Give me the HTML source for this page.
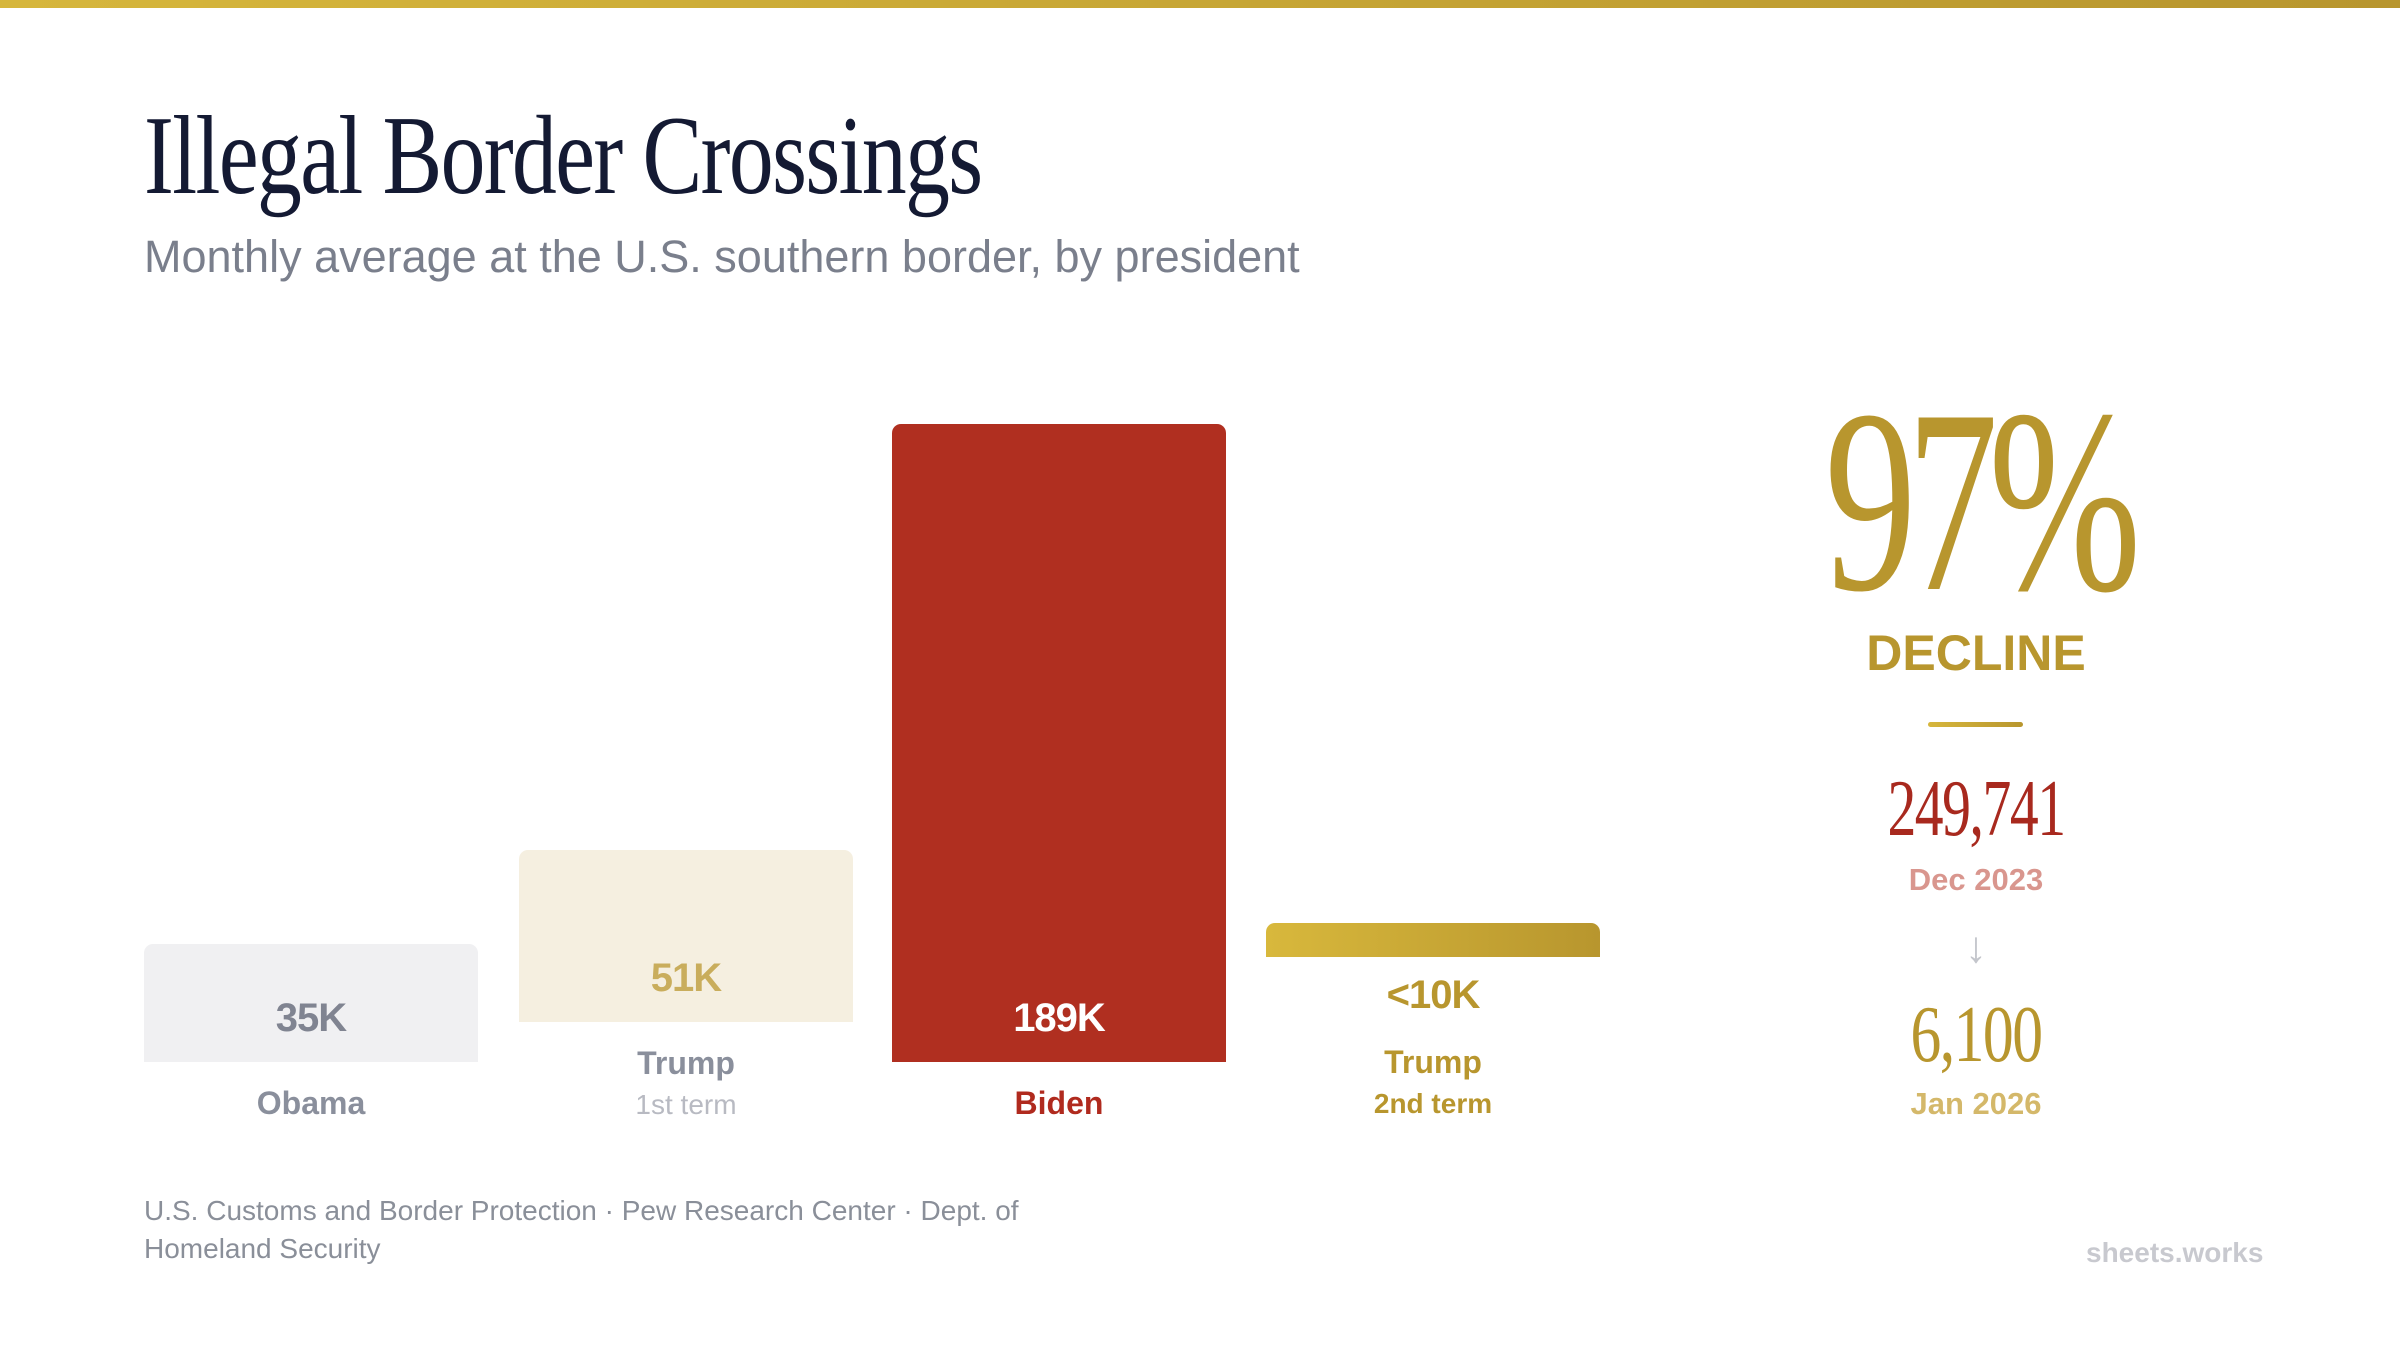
<!DOCTYPE html>
<html><head><meta charset="utf-8">
<style>
body{margin:0;width:2400px;height:1350px;background:#fff;position:relative;overflow:hidden;font-family:"Liberation Sans",sans-serif}
.a{position:absolute;white-space:nowrap}
.c{transform:translateX(-50%);text-align:center}
.serif{font-family:"Liberation Serif",serif}
</style></head><body>
<div class="a" style="left:0;top:0;width:2400px;height:8px;background:linear-gradient(90deg,#d6b63c,#b8962e)"></div>
<div class="a serif" style="left:144px;top:96px;font-size:112px;line-height:120px;color:#141a33;transform-origin:left top;transform:scaleX(0.80);letter-spacing:-2px">Illegal Border Crossings</div>
<div class="a" style="left:144px;top:232px;font-size:45px;line-height:50px;color:#7a7f8c">Monthly average at the U.S. southern border, by president</div>

<div id="chart"></div>

<div class="a c serif" style="left:1978px;top:370px;font-size:262px;line-height:262px;color:#b8962e;letter-spacing:-14px;transform:translateX(-50%) scaleX(0.70)">97%</div>
<div class="a c" style="left:1976px;top:624px;font-size:50px;line-height:58px;font-weight:bold;color:#b8962e">DECLINE</div>
<div class="a" style="left:1928px;top:722px;width:95px;height:5px;border-radius:3px;background:linear-gradient(90deg,#d6b63c,#b8962e)"></div>
<div class="a c serif" style="left:1976px;top:764px;font-size:80px;line-height:90px;color:#a8291e;transform:translateX(-50%) scaleX(0.72);letter-spacing:-2px">249,741</div>
<div class="a c" style="left:1976px;top:862px;font-size:31px;line-height:36px;font-weight:bold;color:#d9968e">Dec 2023</div>
<div class="a c" style="left:1976px;top:920px;font-size:44px;line-height:56px;color:#c4c6cc">↓</div>
<div class="a c serif" style="left:1976px;top:990px;font-size:80px;line-height:90px;color:#b8962e;transform:translateX(-50%) scaleX(0.77);letter-spacing:-2px">6,100</div>
<div class="a c" style="left:1976px;top:1086px;font-size:31px;line-height:36px;font-weight:bold;color:#d4b86a">Jan 2026</div>

<div class="a" style="left:144px;top:1192px;font-size:28px;line-height:38px;color:#8a8f99;white-space:normal;width:900px">U.S. Customs and Border Protection · Pew Research Center · Dept. of Homeland Security</div>
<div class="a" style="left:2086px;top:1236px;font-size:28px;line-height:34px;color:#c8c9cf;font-weight:bold">sheets.works</div>

<script>
const categories = ["Obama","Trump","Biden","Trump"];
const subLabels = ["","1st term","","2nd term"];
const values = [35, 51, 189, 10];
const valueLabels = ["35K","51K","189K","<10K"];

const barLeft = [144, 519, 892, 1266];
const barW = 334;
const bottoms = [1062, 1022, 1062, 957];
const fills = ["#f0f0f2","#f5efe0","#b02f20","linear-gradient(90deg,#d8b83c,#b8962e)"];
const valColors = ["#808491","#c9ad5c","#ffffff","#b8962e"];
const nameColors = ["#8a8f9c","#8a8f9c","#b02a1e","#b8962e"];
const pxPerK = 638/189;
function yScale(v){ return v*pxPerK; }

const chart = document.getElementById('chart');
values.forEach((v,i)=>{
  const h = yScale(v);
  const bar = document.createElement('div');
  
  
  bar.className = 'a';
  bar.style.cssText = `left:${barLeft[i]}px;top:${bottoms[i]-h}px;width:${barW}px;height:${h}px;background:${fills[i]};border-radius:9px 9px 0 0`;
  chart.appendChild(bar);

  const cx = barLeft[i] + barW/2;
  const inside = h > 80;
  const vy = inside ? bottoms[i]-68 : bottoms[i]+14;
  const vl = document.createElement('div');
  
  
  vl.className = 'a c';
  vl.style.cssText = `left:${cx}px;top:${vy}px;font-size:40px;line-height:48px;font-weight:bold;color:${valColors[i]};letter-spacing:-1px`;
  vl.textContent = valueLabels[i];
  chart.appendChild(vl);

  let ny = inside ? bottoms[i]+22 : bottoms[i]+86;
  const nl = document.createElement('div');
  
  
  nl.className = 'a c';
  nl.style.cssText = `left:${cx}px;top:${ny}px;font-size:32px;line-height:38px;font-weight:bold;color:${nameColors[i]}`;
  nl.textContent = categories[i];
  chart.appendChild(nl);

  if(subLabels[i]){
    const sl = document.createElement('div');
    
    
    sl.className = 'a c';
    const bold = i===3;
    sl.style.cssText = `left:${cx}px;top:${ny+44}px;font-size:28px;line-height:34px;${bold?'font-weight:bold;':''}color:${bold?'#b8962e':'#b8bac2'}`;
    sl.textContent = subLabels[i];
    chart.appendChild(sl);
  }
});
</script>
</body></html>
